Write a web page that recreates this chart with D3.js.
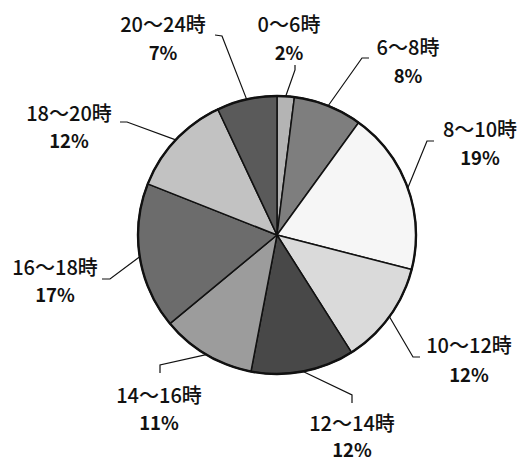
<!DOCTYPE html>
<html>
<head>
<meta charset="utf-8">
<script src="https://cdn.jsdelivr.net/npm/d3@7"></script>
<style>
  html, body { margin: 0; padding: 0; background: #fff; }
  svg { display: block; }
  text { font-family: "Noto Sans CJK JP", "Noto Sans", sans-serif; fill: #111; }
</style>
</head>
<body>
<svg id="chart" width="525" height="461"></svg>
<script>
// Time slots and their share of the day (percent)
const categories = ["0～6時", "6～8時", "8～10時", "10～12時", "12～14時", "14～16時", "16～18時", "18～20時", "20～24時"];
const values = [2, 8, 19, 12, 12, 11, 17, 12, 7];
const fills = ["#b4b4b4", "#7e7e7e", "#f6f6f6", "#dadada", "#484848", "#9c9c9c", "#6c6c6c", "#c2c2c2", "#5a5a5a"];

// Label placement: text centre x, baselines of both lines, and leader points near the label
const labelLayout = [
  { x: 289, y: 32, py: 60, leader: [[295, 65], [295, 70]] },
  { x: 408, y: 55, py: 83, leader: [[369, 58], [362, 58]] },
  { x: 480, y: 137, py: 165, leader: [[434, 141], [427, 141]] },
  { x: 469, y: 353, py: 382, leader: [[420, 357], [413, 357]] },
  { x: 352, y: 431, py: 457, leader: [[352, 403], [352, 395]] },
  { x: 159, y: 403, py: 430, leader: [[160, 373], [160, 365]] },
  { x: 55, y: 275, py: 302, leader: [[102, 279], [110, 279]] },
  { x: 69, y: 121, py: 148, leader: [[120, 122], [127, 122]] },
  { x: 163, y: 32, py: 60, leader: [[215, 35], [222, 36]] }
];

const svg = d3.select("#chart");
const cx = 277, cy = 235, r = 139;

const data = categories.map((c, i) => ({ name: c, value: values[i], fill: fills[i], layout: labelLayout[i] }));

const pie = d3.pie().sort(null).value(d => d.value);
const arc = d3.arc().innerRadius(0).outerRadius(r);
const arcs = pie(data);

const g = svg.append("g").attr("transform", `translate(${cx},${cy})`);

g.selectAll("path.slice")
  .data(arcs)
  .join("path")
  .attr("class", "slice")
  .attr("d", arc)
  .attr("fill", d => d.data.fill)
  .attr("stroke", "#111")
  .attr("stroke-width", 1.5)
  .attr("stroke-linejoin", "round");

// Heavier rim around the whole pie
g.append("circle")
  .attr("r", r)
  .attr("fill", "none")
  .attr("stroke", "#111")
  .attr("stroke-width", 2.4);

// Leader lines from the rim of each slice to its label
const line = d3.line();
svg.selectAll("path.leader")
  .data(arcs)
  .join("path")
  .attr("class", "leader")
  .attr("fill", "none")
  .attr("stroke", "#111")
  .attr("stroke-width", 1.2)
  .attr("d", d => {
    const a = (d.startAngle + d.endAngle) / 2;
    const edge = [cx + r * Math.sin(a), cy - r * Math.cos(a)];
    const pts = d.data.layout.leader.slice();
    pts.push(edge);
    return line(pts);
  });

// Labels: time slot on the first line, percentage below
const labels = svg.selectAll("g.label")
  .data(arcs)
  .join("g")
  .attr("class", "label");

labels.append("text")
  .attr("x", d => d.data.layout.x)
  .attr("y", d => d.data.layout.y)
  .attr("text-anchor", "middle")
  .attr("font-size", 20)
  .attr("font-weight", 500)
  .text(d => d.data.name);

labels.append("text")
  .attr("x", d => d.data.layout.x)
  .attr("y", d => d.data.layout.py)
  .attr("text-anchor", "middle")
  .attr("font-size", 18.5)
  .attr("font-weight", "bold")
  .text(d => d.data.value + "%");
</script>
</body>
</html>
